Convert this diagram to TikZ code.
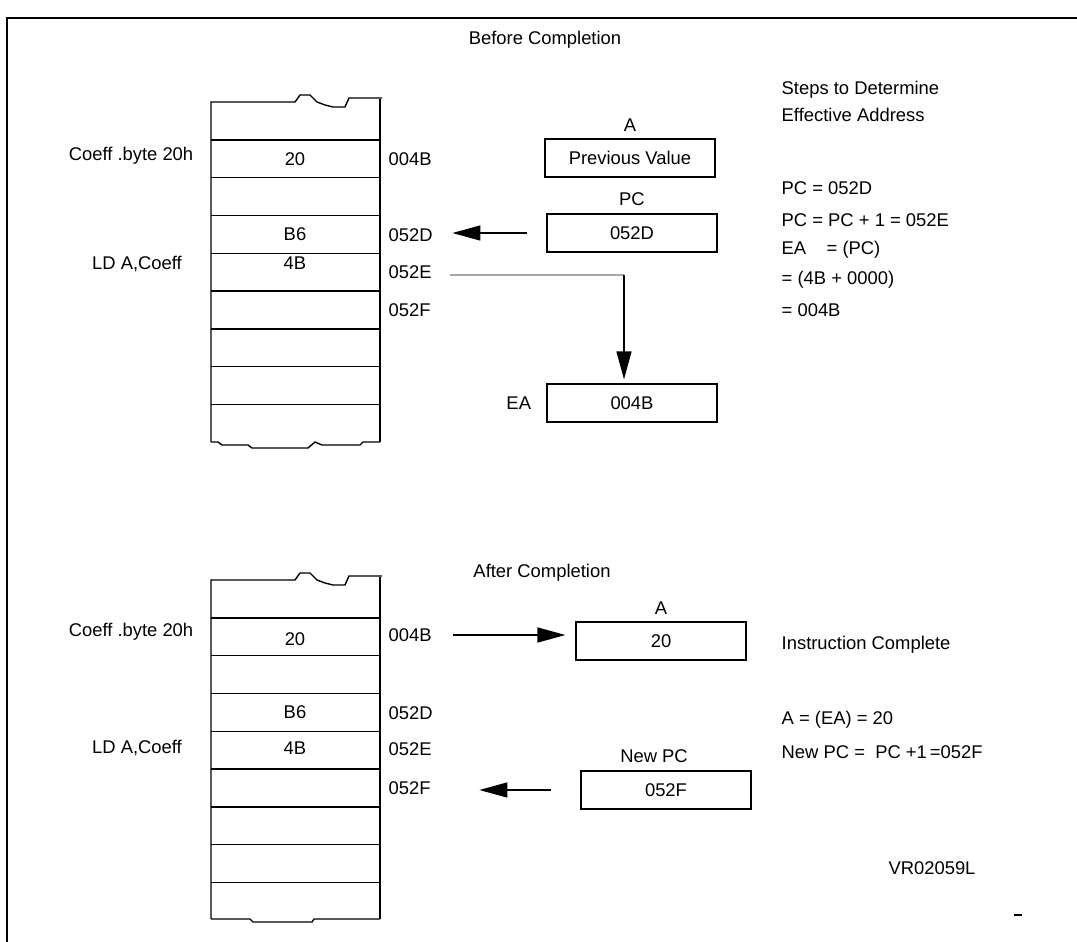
\documentclass[tikz,border=0pt]{standalone}
\usepackage{fontspec}
\setmainfont{Liberation Sans}
\usetikzlibrary{arrows.meta,positioning}

\tikzset{
  regbox/.style={draw,line width=0.6pt,minimum width=85pt,minimum height=19pt,inner sep=0pt},
  addr/.style={anchor=west,inner sep=0pt},
  cell/.style={inner sep=0pt},
  note/.style={anchor=west,inner sep=0pt},
  bigtip/.style={-{Triangle[length=14pt,width=7.5pt]}},
}

\begin{document}
\begin{tikzpicture}[x=0.5pt,y=-0.5pt,line width=0.7pt,font=\fontsize{9.2}{11}\selectfont]
\useasboundingbox (0,0) rectangle (1077,942);

% frame
\draw[line width=1pt] (7,942) -- (7,18) -- (1077,18);

% ---------------- before completion
\node[cell] (before) at (545,40) {Before Completion};

\draw (211,442) -- (211,102) -- (295,102) -- (300,95) -- (310,95) -- (317,102)
  -- (325,105) -- (333,107) -- (345,107) -- (349,98) -- (382,98);
\draw (380,99) -- (380,442);
\draw (211,442) -- (218,442) -- (222,445) -- (248,445) -- (252,448) -- (308,448)
  -- (315,442) -- (322,445) -- (360,445) -- (363,442) -- (380,442);
\foreach \k in {1,...,8}
  \draw (211,{102+37.8*\k}) -- (380,{102+37.8*\k});

\node[cell] (tcoeff) at (131,156) {Coeff\ .byte 20h};
\node[cell] (tld) at (137,264) {LD A,Coeff};
\node[cell] (t20) at (295,159) {20};
\node[cell] (tB6) at (295,234) {B6};
\node[cell] (t4B) at (295,263) {4B};
\node[addr] (t004B) at (388,159) {004B};
\node[addr] (t052D) at (388,235) {052D};
\node[addr] (t052E) at (388,272) {052E};
\node[addr] (t052F) at (388,310) {052F};

\node[regbox,label={above:A}] (tA) at (630,158) {Previous Value};
\node[regbox,label={above:PC}] (tPC) at (632,233) {052D};
\node[regbox,label={[label distance=4pt]left:EA}] (tEA) at (632,403) {004B};

\draw[bigtip,shorten <=9.5pt,shorten >=9.5pt] (tPC.west) -- (t052D.east |- tPC.west);
\coordinate (tturn) at (624,275);
\draw[gray!70,shorten <=9pt] (t052E.east |- tturn) -- (tturn);
\draw[bigtip,shorten >=2pt] (tturn) -- (tturn |- tEA.north);

\node[note] (steps1) at (781,90) {Steps to Determine};
\node[note] (steps2) at (781,115) {Effective Address};
\node[note] (step1) at (781,188) {PC = 052D};
\node[note] (step2) at (781,220) {PC = PC + 1 = 052E};
\node[note] (step3) at (781,250) {EA\ \ \ \ = (PC)};
\node[note] (step4) at (781,280) {= (4B + 0000)};
\node[note] (step5) at (781,310) {= 004B};

% ---------------- after completion
\node[cell] (after) at (542,573) {After Completion};

\begin{scope}[shift={(0,478)}]
\draw (211,441) -- (211,102) -- (295,102) -- (300,95) -- (310,95) -- (317,102)
  -- (325,105) -- (333,107) -- (345,107) -- (349,98) -- (382,98);
\draw (380,99) -- (380,441);
\draw (211,441) -- (250,441) -- (253,444) -- (312,444) -- (314,441) -- (380,441);
\foreach \k in {1,...,8}
  \draw (211,{102+37.8*\k}) -- (380,{102+37.8*\k});
\end{scope}

\node[cell] (bcoeff) at (131,632) {Coeff\ .byte 20h};
\node[cell] (bld) at (137,748) {LD A,Coeff};
\node[cell] (b20) at (295,639) {20};
\node[cell] (bB6) at (295,712) {B6};
\node[cell] (b4B) at (295,748) {4B};
\node[addr] (b004B) at (388,635) {004B};
\node[addr] (b052D) at (388,713) {052D};
\node[addr] (b052E) at (388,749) {052E};
\node[addr] (b052F) at (388,788) {052F};

\node[regbox,label={above:A}] (bA) at (661,641) {20};
\node[regbox,label={[xshift=-6pt]above:New PC}] (bPC) at (666,790) {052F};

\draw[bigtip,shorten <=10.5pt,shorten >=5pt] (b004B.east) -- (bA.west |- b004B.east);
\draw[bigtip,shorten <=14.5pt,shorten >=24pt] (bPC.west) -- (b052F.east |- bPC.west);

\node[note] (done) at (781,645) {Instruction Complete};
\node[note] (res1) at (781,720) {A = (EA) = 20};
\node[note] (res2) at (781,752) {New PC = \ PC +1\,=052F};

\node[cell] (ref) at (932,868) {VR02059L};
\draw[line width=0.6pt] (1014,915) -- (1022,915);

\end{tikzpicture}
\end{document}
